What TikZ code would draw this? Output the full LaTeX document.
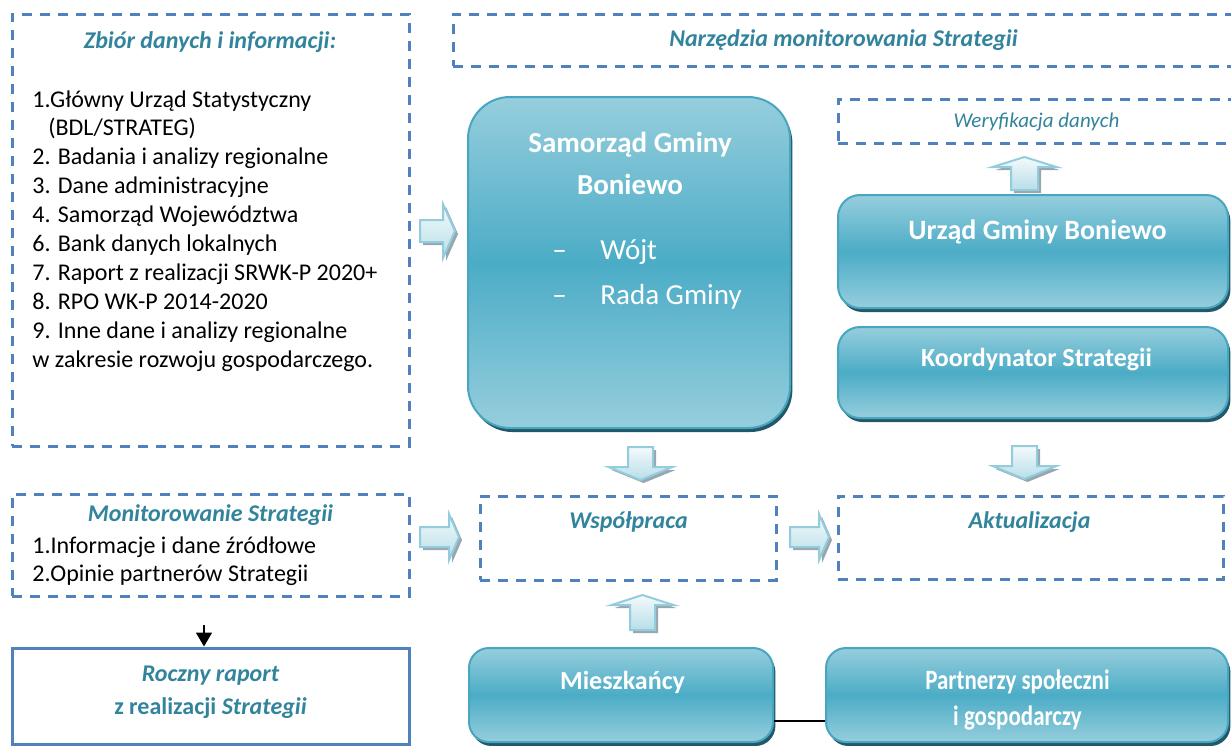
\documentclass[tikz,border=0pt]{standalone}
\usepackage{fontspec}
\setmainfont{Carlito}
\usetikzlibrary{shadows,arrows.meta}

\definecolor{dashblue}{RGB}{79,129,189}
\definecolor{titleteal}{RGB}{49,132,155}
\definecolor{boxlight}{RGB}{150,206,221}
\definecolor{boxmid}{RGB}{75,172,198}
\definecolor{boxedge}{RGB}{72,166,192}
\definecolor{boxshadow}{RGB}{35,88,104}
\definecolor{arrowtop}{RGB}{244,250,252}
\definecolor{arrowbot}{RGB}{183,222,232}
\definecolor{arrowedge}{RGB}{147,205,221}
\definecolor{arrowshadow}{RGB}{152,166,174}

\tikzset{
  dashbox/.style={draw=dashblue, line width=1.5pt, dash pattern=on 5pt off 4pt, inner sep=0pt},
  tealbox/.style={draw=boxedge, line width=1pt, top color=boxlight, bottom color=boxlight, middle color=boxmid,
    general shadow={fill=boxshadow, shadow xshift=1.2pt, shadow yshift=-2pt}, inner sep=0pt},
  blockarrow/.style={draw=arrowedge, line width=1pt, top color=arrowtop, bottom color=arrowbot,
    general shadow={fill=arrowshadow, shadow xshift=1.5pt, shadow yshift=-1.5pt}},
  title/.style={font=\fontsize{12}{14.5}\selectfont\bfseries\itshape, text=titleteal, inner sep=0pt},
  listtext/.style={font=\fontsize{12}{14.45}\selectfont, align=left, anchor=north west, inner sep=0pt},
  boxtext/.style={font=\fontsize{14}{21}\selectfont\bfseries, text=white, align=center, inner sep=0pt},
}

\begin{document}
\begin{tikzpicture}[x=0.5pt, y=-0.5pt]
  \useasboundingbox (0,0) rectangle (1231,745);
  \clip (0,0) rectangle (1231,745);

  % Left column: sources and monitoring
  \node[dashbox, minimum width=198.5pt, minimum height=216pt] (zbior) at (210.5,230) {};
  \node[title] (zbiortitle) at (210,42) {Zbiór danych i informacji:};
  \node[listtext] (zbiorlist) at (32,90) {1.Główny Urząd Statystyczny\\
    \hspace*{8pt}(BDL/STRATEG)\\
    2. Badania i analizy regionalne\\
    3. Dane administracyjne\\
    4. Samorząd Województwa\\
    6. Bank danych lokalnych\\
    7. Raport z realizacji SRWK-P 2020+\\
    8. RPO WK-P 2014-2020\\
    9. Inne dane i analizy regionalne\\
    w zakresie rozwoju gospodarczego.};

  \node[dashbox, minimum width=198.5pt, minimum height=51pt] (monit) at (210.5,545) {};
  \node[title] (monittitle) at (210.5,515) {Monitorowanie Strategii};
  \node[listtext, font=\fontsize{12}{14}\selectfont] (monitlist) at (32,536)
    {1.Informacje i dane źródłowe\\2.Opinie partnerów Strategii};

  \node[draw=dashblue, line width=1.5pt, minimum width=198.5pt, minimum height=48pt] (roczny) at (210.5,696) {};
  \node[title, align=center, font=\fontsize{12}{16.5}\selectfont\bfseries\itshape] (rocznytext) at (210.5,692.5)
    {Roczny raport\\{\upshape z realizacji} Strategii};
  \coordinate (rstart) at (204,625);
  \draw[line width=0.8pt, -{Triangle[length=7pt,width=8pt]}] (rstart) -- (rstart |- roczny.north);

  % Middle column
  \node[dashbox, minimum width=398.5pt, minimum height=26pt] (narz) at (851.5,40) {};
  \node[title] (narztitle) at (843.5,40) {Narzędzia monitorowania Strategii};

  \node[tealbox, rounded corners=21pt, minimum width=161pt, minimum height=165.5pt] (samorzad) at (629,262.5) {};
  \node[boxtext, font=\fontsize{14.5}{21}\selectfont\bfseries] (samorzadtext) at (630,163) {Samorząd Gminy\\Boniewo};
  \node[text=white, font=\fontsize{14.5}{22.5}\selectfont, align=left, anchor=west, inner sep=0pt] (organy) at (552,274.5)
    {\makebox[24pt][l]{–}Wójt\\\makebox[24pt][l]{–}Rada Gminy};

  \node[dashbox, minimum width=148pt, minimum height=42pt] (wspol) at (628,538) {};
  \node[title] (wspoltext) at (628.5,522) {Współpraca};

  \node[tealbox, rounded corners=10pt, minimum width=152pt, minimum height=47pt] (miesz) at (621,695) {};
  \node[boxtext, font=\fontsize{13}{18}\selectfont\bfseries] (mieszt) at (622.5,682) {Mieszkańcy};

  % Right column
  \node[dashbox, minimum width=206pt, minimum height=22pt] (weryf) at (1044,121) {};
  \node[font=\fontsize{10.5}{12}\selectfont\itshape, text=titleteal, inner sep=0pt] (weryftext) at (1036.5,122) {Weryfikacja danych};

  \node[tealbox, rounded corners=11pt, minimum width=195pt, minimum height=56.5pt] (urzad) at (1033,251.5) {};
  \node[boxtext] (urzadtext) at (1037.5,232) {Urząd Gminy Boniewo};

  \node[tealbox, rounded corners=11pt, minimum width=195pt, minimum height=45.5pt] (koord) at (1033,372.5) {};
  \node[boxtext, font=\fontsize{13}{18}\selectfont\bfseries] (koordtext) at (1036.5,360) {Koordynator Strategii};

  \node[dashbox, minimum width=192.5pt, minimum height=41.5pt] (aktual) at (1030.5,537.5) {};
  \node[title] (aktualtext) at (1029.5,522) {Aktualizacja};

  \node[tealbox, rounded corners=10pt, minimum width=201pt, minimum height=47pt] (partn) at (1027,695) {};
  \node[boxtext, font=\fontsize{14}{18}\selectfont\bfseries] (partntext) at (1017.5,700)
    {\scalebox{0.82}[1]{Partnerzy społeczni}\\\scalebox{0.82}[1]{i gospodarczy}};

  \draw[line width=1pt] ([yshift=11pt]miesz.south east) -- ([yshift=11pt]partn.south west);

  % Block arrows
  \path[blockarrow] (420,220) -- ++(23,0) -- ++(0,-16) -- ++(12,27) -- ++(-12,27) -- ++(0,-16) -- ++(-23,0) -- cycle;
  \path[blockarrow] (420,527) -- ++(29,0) -- ++(0,-13) -- ++(10,23) -- ++(-10,23) -- ++(0,-13) -- ++(-29,0) -- cycle;
  \path[blockarrow] (790,527) -- ++(29,0) -- ++(0,-13) -- ++(10,23) -- ++(-10,23) -- ++(0,-13) -- ++(-29,0) -- cycle;
  \path[blockarrow] (628,447) -- ++(25,0) -- ++(0,20) -- ++(19.5,0) -- ++(-32,13) -- ++(-32,-13) -- ++(19.5,0) -- cycle;
  \path[blockarrow] (1012,446) -- ++(25,0) -- ++(0,20) -- ++(19.5,0) -- ++(-32,13) -- ++(-32,-13) -- ++(19.5,0) -- cycle;
  \path[blockarrow] (1011,190) -- ++(27,0) -- ++(0,-23) -- ++(18.5,0) -- ++(-32,-10) -- ++(-32,10) -- ++(18.5,0) -- cycle;
  \path[blockarrow] (630,630) -- ++(25,0) -- ++(0,-25) -- ++(18.5,0) -- ++(-31,-10) -- ++(-31,10) -- ++(18.5,0) -- cycle;
\end{tikzpicture}
\end{document}
